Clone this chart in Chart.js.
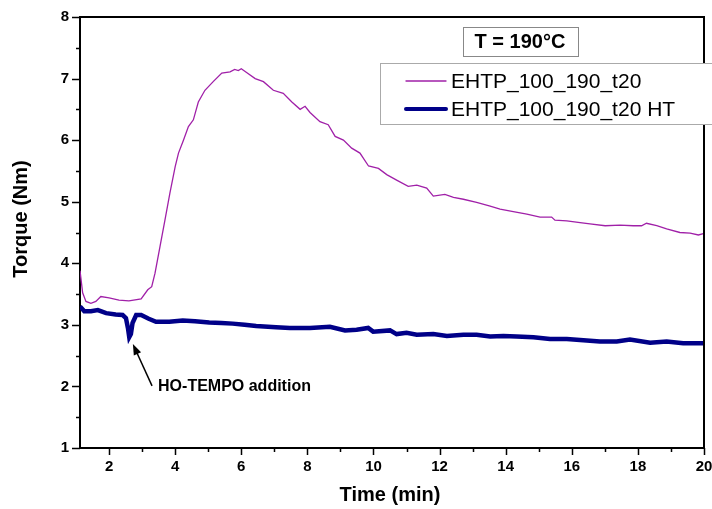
<!DOCTYPE html>
<html>
<head>
<meta charset="utf-8">
<script src="https://cdn.jsdelivr.net/npm/chart.js@4.4.1/dist/chart.umd.min.js"></script>
<style>
  html, body { margin: 0; background: #fff; }
  #wrap { width: 712px; height: 509px; }
</style>
</head>
<body>
<div id="wrap"><canvas id="chart"></canvas></div>
<script>
// torque curve without the nitroxide
const purpleTime = [1.12, 1.2, 1.3, 1.45, 1.6, 1.75, 2.0, 2.3, 2.6, 2.97, 3.17, 3.29, 3.39, 3.54, 3.69, 3.84, 4.0, 4.1, 4.25, 4.4, 4.55, 4.7, 4.9, 5.15, 5.41, 5.66, 5.8, 5.91, 6.0, 6.16, 6.42, 6.67, 6.97, 7.27, 7.53, 7.78, 7.93, 8.08, 8.38, 8.63, 8.84, 9.09, 9.34, 9.59, 9.85, 10.15, 10.4, 10.7, 11.05, 11.31, 11.61, 11.81, 12.16, 12.42, 12.72, 13.12, 13.53, 13.83, 14.23, 14.64, 15.04, 15.39, 15.49, 15.85, 16.25, 16.55, 17.01, 17.46, 17.86, 18.11, 18.26, 18.57, 18.87, 19.27, 19.58, 19.83, 19.98];
const purpleTorque = [3.88, 3.52, 3.38, 3.35, 3.38, 3.46, 3.44, 3.4, 3.39, 3.42, 3.57, 3.62, 3.84, 4.27, 4.7, 5.14, 5.57, 5.79, 6.0, 6.22, 6.33, 6.62, 6.81, 6.95, 7.09, 7.11, 7.15, 7.13, 7.16, 7.1, 7.0, 6.95, 6.81, 6.76, 6.62, 6.5, 6.55, 6.45, 6.3, 6.25, 6.06, 6.0, 5.87, 5.79, 5.58, 5.54, 5.44, 5.35, 5.25, 5.27, 5.22, 5.09, 5.12, 5.07, 5.04, 4.99, 4.93, 4.88, 4.84, 4.8, 4.75, 4.75, 4.7, 4.69, 4.66, 4.64, 4.61, 4.62, 4.61, 4.61, 4.65, 4.61, 4.56, 4.5, 4.49, 4.46, 4.48];

// torque curve with HO-TEMPO (HT)
const blueTime = [1.12, 1.25, 1.45, 1.66, 1.91, 2.2, 2.41, 2.51, 2.57, 2.61, 2.66, 2.71, 2.82, 2.97, 3.2, 3.42, 3.82, 4.23, 4.6, 5.03, 5.4, 5.74, 6.1, 6.45, 7.05, 7.47, 8.08, 8.68, 9.14, 9.49, 9.84, 9.99, 10.5, 10.7, 11.0, 11.31, 11.81, 12.22, 12.72, 13.12, 13.53, 13.93, 14.33, 14.84, 15.34, 15.85, 16.35, 16.85, 17.36, 17.76, 18.37, 18.87, 19.37, 19.93, 20.0];
const blueTorque = [3.3, 3.22, 3.22, 3.24, 3.19, 3.17, 3.16, 3.11, 2.95, 2.8, 2.85, 3.03, 3.16, 3.16, 3.1, 3.05, 3.05, 3.07, 3.06, 3.04, 3.03, 3.02, 3.0, 2.98, 2.96, 2.95, 2.95, 2.97, 2.91, 2.92, 2.95, 2.89, 2.91, 2.85, 2.87, 2.84, 2.85, 2.82, 2.84, 2.84, 2.81, 2.82, 2.81, 2.8, 2.77, 2.77, 2.75, 2.73, 2.73, 2.76, 2.71, 2.73, 2.7, 2.7, 2.7];

const seriesLabels = ["EHTP_100_190_t20", "EHTP_100_190_t20 HT"];
const xTitle = "Time (min)";
const yTitle = "Torque (Nm)";
const boxText = "T = 190°C";
const noteText = "HO-TEMPO addition";
// arrow tip / tail in data units
const noteTip = [2.72, 2.69];
const noteTail = [3.3, 2.01];

const FONT = "Arial, 'Liberation Sans', sans-serif";
const PURPLE = "#a020a8";
const NAVY = "#000088";

const toPoints = (xs, ys) => xs.map((x, i) => ({ x, y: ys[i] }));

const decorations = {
  id: "decorations",
  afterDraw(chart) {
    const ctx = chart.ctx;
    const { left, right, top, bottom } = chart.chartArea;
    const xs = chart.scales.x;
    const ys = chart.scales.y;
    ctx.save();

    // top and right frame
    ctx.strokeStyle = "#000";
    ctx.lineWidth = 2;
    ctx.beginPath();
    ctx.moveTo(left, top);
    ctx.lineTo(right, top);
    ctx.lineTo(right, bottom);
    ctx.stroke();

    // tick marks, long on labelled values
    ctx.lineWidth = 1.5;
    ctx.beginPath();
    xs.ticks.forEach((t) => {
      const px = Math.round(xs.getPixelForValue(t.value)) + 0.5;
      const len = t.value % 2 === 0 ? 7 : 4;
      ctx.moveTo(px, bottom);
      ctx.lineTo(px, bottom + len);
    });
    ys.ticks.forEach((t) => {
      const py = Math.round(ys.getPixelForValue(t.value)) + 0.5;
      const len = Number.isInteger(t.value) ? 8 : 4;
      ctx.moveTo(left, py);
      ctx.lineTo(left - len, py);
    });
    ctx.stroke();

    // axis titles
    ctx.fillStyle = "#000";
    ctx.font = "bold 20px " + FONT;
    ctx.textAlign = "center";
    ctx.textBaseline = "middle";
    ctx.fillText(xTitle, 390, 495);
    ctx.save();
    ctx.translate(21, 219);
    ctx.rotate(-Math.PI / 2);
    ctx.fillText(yTitle, 0, 0);
    ctx.restore();

    // temperature box
    ctx.fillStyle = "#fff";
    ctx.fillRect(463, 27, 115, 29);
    ctx.strokeStyle = "#888";
    ctx.lineWidth = 1;
    ctx.strokeRect(463.5, 27.5, 115, 29);
    ctx.fillStyle = "#000";
    ctx.font = "bold 20px " + FONT;
    ctx.fillText(boxText, 520, 42);

    // legend box
    ctx.fillStyle = "#fff";
    ctx.fillRect(380, 63, 340, 61);
    ctx.strokeStyle = "#aaa";
    ctx.strokeRect(380.5, 63.5, 340, 61);
    const rows = [
      { y: 81, color: PURPLE, width: 1.3 },
      { y: 109, color: NAVY, width: 4 },
    ];
    ctx.font = "21px " + FONT;
    ctx.textAlign = "left";
    rows.forEach((r, i) => {
      ctx.strokeStyle = r.color;
      ctx.lineWidth = r.width;
      ctx.lineCap = "round";
      ctx.beginPath();
      ctx.moveTo(406, r.y);
      ctx.lineTo(446, r.y);
      ctx.stroke();
      ctx.fillStyle = "#000";
      ctx.fillText(seriesLabels[i], 451, r.y + 1);
    });

    // annotation arrow
    const tx = xs.getPixelForValue(noteTip[0]);
    const ty = ys.getPixelForValue(noteTip[1]);
    const sx = xs.getPixelForValue(noteTail[0]);
    const sy = ys.getPixelForValue(noteTail[1]);
    const ang = Math.atan2(ty - sy, tx - sx);
    ctx.strokeStyle = "#000";
    ctx.lineWidth = 1.5;
    ctx.lineCap = "butt";
    ctx.beginPath();
    ctx.moveTo(sx, sy);
    ctx.lineTo(tx - 8 * Math.cos(ang), ty - 8 * Math.sin(ang));
    ctx.stroke();
    ctx.fillStyle = "#000";
    ctx.beginPath();
    ctx.moveTo(tx, ty);
    ctx.lineTo(tx - 11 * Math.cos(ang) + 4 * Math.sin(ang), ty - 11 * Math.sin(ang) - 4 * Math.cos(ang));
    ctx.lineTo(tx - 11 * Math.cos(ang) - 4 * Math.sin(ang), ty - 11 * Math.sin(ang) + 4 * Math.cos(ang));
    ctx.closePath();
    ctx.fill();
    ctx.font = "bold 16px " + FONT;
    ctx.textAlign = "left";
    ctx.fillText(noteText, sx + 6, sy + 1);

    ctx.restore();
  },
};

new Chart(document.getElementById("chart"), {
  type: "line",
  data: {
    datasets: [
      {
        label: seriesLabels[0],
        data: toPoints(purpleTime, purpleTorque),
        borderColor: PURPLE,
        borderWidth: 1.3,
        pointRadius: 0,
        tension: 0,
      },
      {
        label: seriesLabels[1],
        data: toPoints(blueTime, blueTorque),
        borderColor: NAVY,
        borderWidth: 4.5,
        pointRadius: 0,
        tension: 0,
      },
    ],
  },
  options: {
    responsive: true,
    maintainAspectRatio: false,
    animation: false,
    devicePixelRatio: 1,
    layout: { padding: { top: 17, right: 8, left: 0, bottom: 0 } },
    plugins: { legend: { display: false }, tooltip: { enabled: false } },
    scales: {
      x: {
        type: "linear",
        min: 1.12,
        max: 20,
        ticks: {
          stepSize: 1,
          includeBounds: false,
          autoSkip: false,
          maxRotation: 0,
          padding: 10,
          color: "#000",
          font: { family: FONT, size: 15, weight: "bold" },
          callback: (v) => (v % 2 === 0 ? v : ""),
        },
        grid: { display: false, drawTicks: false },
        border: { display: true, color: "#000", width: 2 },
        afterFit: (s) => { s.height = 61; s.paddingLeft = 0; s.paddingRight = 0; },
      },
      y: {
        min: 1,
        max: 8,
        ticks: {
          stepSize: 0.5,
          autoSkip: false,
          padding: 11,
          color: "#000",
          font: { family: FONT, size: 15, weight: "bold" },
          callback: (v) => (Number.isInteger(v) ? v : ""),
        },
        grid: { display: false, drawTicks: false },
        border: { display: true, color: "#000", width: 2 },
        afterFit: (s) => { s.width = 80; s.paddingTop = 0; s.paddingBottom = 0; },
      },
    },
  },
  plugins: [decorations],
});
</script>
</body>
</html>
